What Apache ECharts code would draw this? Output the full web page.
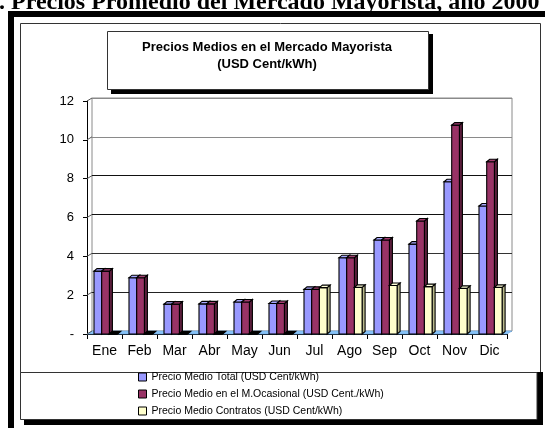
<!DOCTYPE html>
<html>
<head>
<meta charset="utf-8">
<script src="https://cdn.jsdelivr.net/npm/echarts@6/dist/echarts.min.js"></script>
<style>
  html, body { margin: 0; padding: 0; background: #fff; }
  #chart { width: 545px; height: 428px; }
</style>
</head>
<body>
<div id="chart"></div>
<script>
// Monthly average wholesale prices, year 2000 (USD cents per kWh)
const months = ['Ene', 'Feb', 'Mar', 'Abr', 'May', 'Jun', 'Jul', 'Ago', 'Sep', 'Oct', 'Nov', 'Dic'];
const precioTotal = [3.24, 2.90, 1.54, 1.55, 1.65, 1.57, 2.30, 3.93, 4.84, 4.63, 7.84, 6.59];
const precioOcasional = [3.24, 2.90, 1.54, 1.55, 1.65, 1.57, 2.30, 3.93, 4.84, 5.82, 10.76, 8.87];
const precioContratos = [0, 0, 0, 0, 0, 0, 2.39, 2.40, 2.50, 2.44, 2.35, 2.40];
const yTicks = [0, 2, 4, 6, 8, 10, 12];

const seriesNames = [
  'Precio Medio Total (USD Cent/kWh)',
  'Precio Medio en el M.Ocasional (USD Cent./kWh)',
  'Precio Medio Contratos (USD Cent/kWh)'
];
// front / top / side shades of each column
const palette = [
  { front: '#9999ff', top: '#a8a8ff', side: '#5c5cb0' },
  { front: '#993366', top: '#a33d70', side: '#5a1e3c' },
  { front: '#ffffcc', top: '#ffffd8', side: '#b8b88a' }
];

const FONT = "'Liberation Sans', Arial, sans-serif";
const DEPTH_X = 3, DEPTH_Y = -2.5;     // column depth
const WALL_X = 5, WALL_Y = -3;         // back wall offset

function columnRenderer(idx) {
  return function (params, api) {
    const i = api.value(0), v = api.value(1);
    const top = api.coord([i, v]);
    const base = api.coord([i, 0]);
    const bw = api.size([1, 0])[0];
    const w = bw * 0.22;
    const x = top[0] - bw / 2 + bw * 0.2 + idx * w;
    const yT = top[1], y0 = base[1];
    const c = palette[idx];
    const lw = v === 0 ? 1.6 : 1.1;
    const stroke = { stroke: '#000', lineWidth: lw };
    return {
      type: 'group',
      children: [
        { type: 'polygon', shape: { points: [[x + w, yT], [x + w + DEPTH_X, yT + DEPTH_Y], [x + w + DEPTH_X, y0 + DEPTH_Y], [x + w, y0]] },
          style: Object.assign({ fill: c.side }, stroke) },
        { type: 'rect', shape: { x: x, y: yT, width: w, height: y0 - yT },
          style: Object.assign({ fill: c.front }, stroke) },
        { type: 'polygon', shape: { points: [[x, yT], [x + w, yT], [x + w + DEPTH_X, yT + DEPTH_Y], [x + DEPTH_X, yT + DEPTH_Y]] },
          style: Object.assign({ fill: v === 0 ? '#000' : c.top }, stroke) }
      ]
    };
  };
}

const chart = echarts.init(document.getElementById('chart'), null, { renderer: 'canvas' });

const option = {
  animation: false,
  backgroundColor: '#fff',
  grid: [
    // front plane: axes and columns
    { left: 87, right: 38, top: 101, bottom: 94, show: false },
    // back wall with its gridlines
    { left: 87 + WALL_X, right: 38 - WALL_X, top: 101 + WALL_Y, bottom: 94 - WALL_Y,
      show: true, borderColor: '#8a8a8a', borderWidth: 1, backgroundColor: 'transparent' }
  ],
  xAxis: [
    { type: 'category', gridIndex: 0, data: months, boundaryGap: true,
      axisLine: { lineStyle: { color: '#000', width: 1 } },
      axisTick: { show: true, length: 5, lineStyle: { color: '#000' } },
      axisLabel: { color: '#000', fontSize: 14, fontFamily: FONT, margin: 10 },
      splitLine: { show: false } },
    { type: 'category', gridIndex: 1, data: months, show: false }
  ],
  yAxis: [
    { type: 'value', gridIndex: 0, min: 0, max: 12, interval: 2,
      axisLine: { show: true, lineStyle: { color: '#000', width: 1 } },
      axisTick: { show: true, length: 4, lineStyle: { color: '#000' } },
      axisLabel: { color: '#000', fontSize: 13, fontFamily: FONT, margin: 13,
        formatter: v => (v === 0 ? '-' : String(v)) },
      splitLine: { show: false } },
    { type: 'value', gridIndex: 1, min: 0, max: 12, interval: 2,
      axisLine: { show: false }, axisTick: { show: false }, axisLabel: { show: false },
      splitLine: { show: true, lineStyle: { width: 1,
        color: ['#8a8a8a', '#222', '#333', '#111', '#111', '#8a8a8a', '#8a8a8a'] } } }
  ],
  legend: {
    orient: 'vertical', left: 138, top: 371, padding: 0,
    itemWidth: 8, itemHeight: 8, itemGap: 5, icon: 'rect',
    textStyle: { color: '#000', fontSize: 10.5, fontFamily: FONT, lineHeight: 12 },
    data: seriesNames.map((n, k) => ({
      name: n, icon: 'rect',
      itemStyle: { color: palette[k].front, borderColor: '#000', borderWidth: 1 }
    }))
  },
  series: [
    // light-blue floor under the columns
    { type: 'custom', name: 'floor', xAxisIndex: 0, yAxisIndex: 0, z: 1, silent: true,
      data: [[0, 0]],
      renderItem: function (params, api) {
        const bw = api.size([1, 0])[0];
        const a = api.coord([0, 0]);
        const b = api.coord([months.length - 1, 0]);
        const x0 = a[0] - bw / 2, x1 = b[0] + bw / 2, y0 = a[1];
        return { type: 'polygon',
          shape: { points: [[x0, y0], [x1, y0], [x1 + WALL_X, y0 + WALL_Y], [x0 + WALL_X, y0 + WALL_Y]] },
          style: { fill: '#88c4f8', stroke: '#6fa8e0', lineWidth: 0.6 } };
      } },
    // side-wall edges joining front ticks to back wall lines
    { type: 'custom', name: 'wall', xAxisIndex: 0, yAxisIndex: 0, z: 1, silent: true,
      data: yTicks.map(t => [0, t]),
      renderItem: function (params, api) {
        const bw = api.size([1, 0])[0];
        const p = api.coord([0, api.value(1)]);
        const x0 = p[0] - bw / 2;
        return { type: 'line',
          shape: { x1: x0, y1: p[1], x2: x0 + WALL_X, y2: p[1] + WALL_Y },
          style: { stroke: '#555', lineWidth: 1 } };
      } },
    { type: 'custom', name: seriesNames[0], xAxisIndex: 0, yAxisIndex: 0, z: 3,
      itemStyle: { color: palette[0].front },
      encode: { x: 0, y: 1 }, data: precioTotal.map((v, i) => [i, v]), renderItem: columnRenderer(0) },
    { type: 'custom', name: seriesNames[1], xAxisIndex: 0, yAxisIndex: 0, z: 4,
      itemStyle: { color: palette[1].front },
      encode: { x: 0, y: 1 }, data: precioOcasional.map((v, i) => [i, v]), renderItem: columnRenderer(1) },
    { type: 'custom', name: seriesNames[2], xAxisIndex: 0, yAxisIndex: 0, z: 5,
      itemStyle: { color: palette[2].front },
      encode: { x: 0, y: 1 }, data: precioContratos.map((v, i) => [i, v]), renderItem: columnRenderer(2) }
  ],
  graphic: [
    // heading above the frame
    { type: 'text', z: 50, x: -1, y: 3,
      style: { text: '. Precios Promedio del Mercado Mayorista, año 2000',
        font: "bold 24px 'Liberation Serif', 'Times New Roman', serif", fill: '#000',
        align: 'left', verticalAlign: 'middle' } },
    // outer heavy frame
    { type: 'rect', z: 60, shape: { x: 11, y: 14, width: 600, height: 500 },
      style: { fill: 'none', stroke: '#000', lineWidth: 6 } },
    // chart area outline
    { type: 'rect', z: 0, shape: { x: 20.5, y: 23.5, width: 520, height: 349 },
      style: { fill: 'none', stroke: '#333', lineWidth: 1 } },
    // legend box with shadow
    { type: 'rect', z: 0, shape: { x: 537, y: 372, width: 6, height: 53 }, style: { fill: '#000' } },
    { type: 'rect', z: 0, shape: { x: 24, y: 420, width: 519, height: 5 }, style: { fill: '#000' } },
    { type: 'rect', z: 0, shape: { x: 20.5, y: 372.5, width: 516.5, height: 47 },
      style: { fill: 'none', stroke: '#333', lineWidth: 1 } },
    // title box with shadow
    { type: 'rect', z: 20, shape: { x: 111, y: 34, width: 322, height: 60 }, style: { fill: '#000' } },
    { type: 'rect', z: 21, shape: { x: 107.5, y: 31.5, width: 321, height: 58 },
      style: { fill: '#fff', stroke: '#333', lineWidth: 1 } },
    { type: 'text', z: 22, x: 267, y: 47,
      style: { text: 'Precios Medios en el Mercado Mayorista', font: "bold 13px " + FONT,
        fill: '#000', align: 'center', verticalAlign: 'middle' } },
    { type: 'text', z: 22, x: 267, y: 64,
      style: { text: '(USD Cent/kWh)', font: "bold 13px " + FONT,
        fill: '#000', align: 'center', verticalAlign: 'middle' } }
  ]
};

chart.setOption(option);
</script>
</body>
</html>
